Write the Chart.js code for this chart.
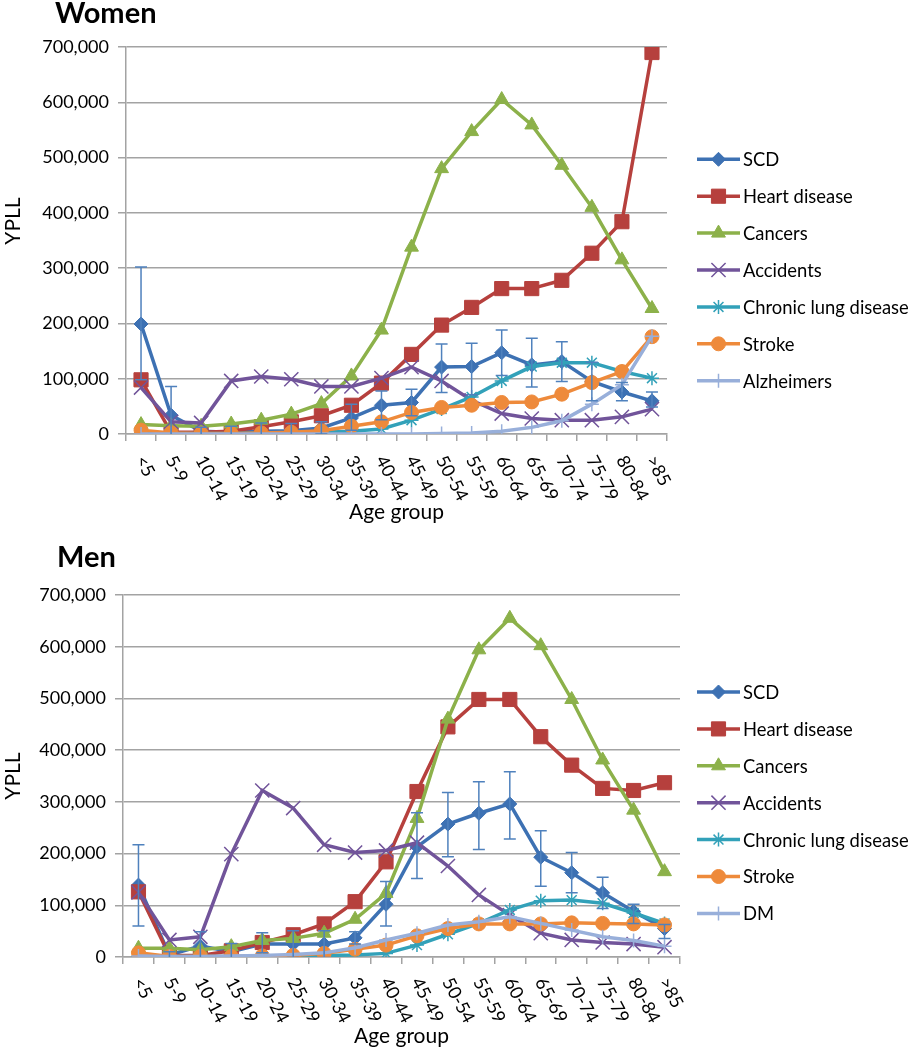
<!DOCTYPE html>
<html><head><meta charset="utf-8">
<script src="https://cdn.jsdelivr.net/npm/chart.js@4.4.0/dist/chart.umd.min.js"></script>
<style>
html,body{margin:0;padding:0;background:#fff;}
#wrap{position:relative;width:911px;height:1050px;}
canvas{display:block;}
</style></head><body>
<div id="wrap">
<canvas id="women" width="911" height="525"></canvas>
<canvas id="men" width="911" height="525"></canvas>
</div>
<script>
// ---------- DATA ----------
const ageGroups = ['<5','5-9','10-14','15-19','20-24','25-29','30-34','35-39','40-44','45-49','50-54','55-59','60-64','65-69','70-74','75-79','80-84','>85'];
const yTicks = [0,100000,200000,300000,400000,500000,600000,700000];

// Women
const womenSCD        = [199000,34000,5000,3000,5000,6000,11000,29000,52000,57000,121000,122000,147000,125000,131000,95000,76000,60000];
const womenSCDHigh    = [302000,86000,12000,14000,20000,19000,22000,54000,78000,81000,163000,164000,188000,173000,167000,130000,93000,76000];
const womenSCDLow     = [98000,-18000,-2000,-8000,-10000,-7000,0,7000,26000,33000,75000,71000,106000,85000,95000,60000,60000,49000];
const womenHeart      = [98000,3000,3000,5000,13000,22000,33000,52000,92000,144000,197000,229000,263000,263000,278000,327000,384000,690000];
const womenCancers    = [17000,15000,14000,18000,25000,36000,55000,105000,188000,338000,480000,547000,605000,559000,486000,410000,315000,227000];
const womenAccidents  = [84000,22000,20000,96000,104000,99000,86000,86000,101000,121000,96000,61000,37000,28000,25000,25000,31000,45000];
const womenChronic    = [2000,1000,1000,1000,2000,2000,3000,5000,9000,25000,45000,67000,96000,122000,129000,129000,113000,101000];
const womenStroke     = [7000,2000,1000,1000,2000,3000,6000,14000,22000,39000,48000,52000,57000,58000,72000,93000,113000,176000];
const womenAlzheimers = [0,0,0,0,0,0,0,0,0,0,1000,2000,5000,12000,24000,54000,89000,177000];

// Men
const menSCD       = [139000,4000,21000,10000,25000,25000,25000,37000,102000,213000,257000,278000,296000,193000,163000,124000,88000,55000];
const menSCDHigh   = [217000,10000,49000,26000,47000,51000,51000,49000,146000,279000,318000,339000,358000,244000,202000,154000,102000,63000];
const menSCDLow    = [60000,-2000,-7000,-6000,8000,-1000,-1000,25000,60000,152000,194000,208000,228000,137000,124000,94000,65000,36000];
const menHeart     = [126000,3000,3000,12000,28000,43000,64000,107000,184000,320000,445000,498000,498000,426000,371000,326000,322000,337000];
const menCancers   = [17000,17000,14000,20000,32000,36000,46000,73000,123000,268000,460000,594000,655000,602000,498000,381000,284000,165000];
const menAccidents = [125000,33000,39000,199000,322000,288000,217000,202000,206000,221000,176000,120000,81000,46000,33000,28000,25000,19000];
const menChronic   = [1000,1000,1000,1000,1000,2000,3000,4000,7000,23000,44000,65000,91000,109000,110000,104000,85000,65000];
const menStroke    = [8000,1000,1000,1000,2000,3000,7000,15000,23000,41000,55000,64000,64000,64000,66000,65000,64000,62000];
const menDM        = [2000,1000,1000,2000,3000,5000,8000,18000,33000,46000,62000,68000,78000,65000,52000,39000,32000,21000];

// ---------- STYLE ----------
const C = {
  scd:'#3D71B3', heart:'#B6403D', cancers:'#8CB14A', accidents:'#71549A',
  chronic:'#32A1B9', stroke:'#EE8A3B', light:'#98AFDA', err:'#4F81BD', grid:'#A3A3A3'
};
const FONT = 'Lato';

function series(label, data, color, style, radius, pbw, idx) {
  return {
    label, data,
    borderColor: color, backgroundColor: color,
    pointBackgroundColor: color, pointBorderColor: color,
    pointStyle: style, pointRadius: radius, pointHoverRadius: radius,
    pointBorderWidth: pbw, borderWidth: 3.5, tension: 0,
    order: 20 - idx
  };
}

function errorBarPlugin(hi, lo) {
  return {
    id: 'errorBars',
    afterDatasetsDraw(chart) {
      const {ctx, chartArea, scales:{x, y}} = chart;
      ctx.save();
      ctx.beginPath();
      ctx.rect(chartArea.left, chartArea.top - 2, chartArea.width, chartArea.height + 2);
      ctx.clip();
      ctx.strokeStyle = C.err; ctx.lineWidth = 1.5;
      hi.forEach((h, i) => {
        const px = x.getPixelForValue(i);
        const yh = y.getPixelForValue(h), yl = y.getPixelForValue(lo[i]);
        ctx.beginPath();
        ctx.moveTo(px, yh); ctx.lineTo(px, yl);
        ctx.moveTo(px - 6, yh); ctx.lineTo(px + 6, yh);
        ctx.moveTo(px - 6, yl); ctx.lineTo(px + 6, yl);
        ctx.stroke();
      });
      ctx.restore();
    }
  };
}

function rotLabelPlugin(offset) {
  return {
    id: 'rotLabels',
    afterDraw(chart) {
      const {ctx} = chart, xs = chart.scales.x;
      ctx.save();
      ctx.font = '18px ' + FONT; ctx.fillStyle = '#000';
      ctx.textAlign = 'left'; ctx.textBaseline = 'middle';
      const ang = 62 * Math.PI / 180;
      chart.data.labels.forEach((lab, i) => {
        const x = xs.getPixelForValue(i);
        ctx.save(); ctx.translate(x - 1, xs.top + offset); ctx.rotate(ang);
        ctx.fillText(lab, 0, 0); ctx.restore();
      });
      ctx.restore();
    }
  };
}

function legendPlugin(x, centerY) {
  return {
    id: 'sideLegend',
    afterDraw(chart) {
      const {ctx} = chart, ds = chart.data.datasets, sp = 36.9, len = 43;
      const y0 = centerY - (ds.length - 1) / 2 * sp;
      ds.forEach((d, i) => {
        const y = y0 + i * sp;
        ctx.save();
        ctx.strokeStyle = d.borderColor; ctx.lineWidth = 3.5;
        ctx.beginPath(); ctx.moveTo(x, y); ctx.lineTo(x + len, y); ctx.stroke();
        ctx.fillStyle = d.pointBackgroundColor; ctx.strokeStyle = d.pointBorderColor;
        ctx.lineWidth = d.pointBorderWidth;
        Chart.helpers.drawPoint(ctx, {pointStyle: d.pointStyle, radius: d.pointRadius, rotation: 0, borderWidth: d.pointBorderWidth}, x + len / 2, y);
        ctx.fillStyle = '#000'; ctx.font = '18.4px ' + FONT;
        ctx.textAlign = 'left'; ctx.textBaseline = 'middle';
        ctx.fillText(d.label, x + len + 3, y + 1);
        ctx.restore();
      });
    }
  };
}

function titlePlugin(text, x, baseline, yTitleCenter) {
  return {
    id: 'panelTitle',
    afterDraw(chart) {
      const {ctx} = chart;
      ctx.save();
      ctx.font = 'bold 29px ' + FONT; ctx.fillStyle = '#000';
      ctx.textAlign = 'left'; ctx.textBaseline = 'alphabetic';
      ctx.fillText(text, x, baseline);
      // y-axis title
      ctx.font = '21px ' + FONT;
      ctx.textAlign = 'center'; ctx.textBaseline = 'middle';
      ctx.translate(13, yTitleCenter); ctx.rotate(-Math.PI / 2);
      ctx.fillText('YPLL', 0, 0);
      ctx.restore();
    }
  };
}

function makeChart(id, datasets, cfg) {
  return new Chart(document.getElementById(id), {
    type: 'line',
    data: { labels: ageGroups, datasets },
    options: {
      responsive: false, animation: false, events: [],
      layout: { padding: { left: 0, right: cfg.padRight, top: cfg.padTop, bottom: 0 } },
      plugins: { legend: { display: false }, tooltip: { enabled: false }, title: { display: false } },
      scales: {
        x: {
          type: 'category', offset: true,
          grid: { display: true, drawOnChartArea: false, drawTicks: true, tickLength: 7, color: C.grid, lineWidth: 1.5, offset: true },
          border: { display: true, color: C.grid, width: 1.5 },
          ticks: { display: false },
          title: { display: true, text: 'Age group', color: '#000', font: { family: FONT, size: 21, lineHeight: 1 }, padding: { top: 0, bottom: cfg.xTitlePad } },
          afterFit(s) { s.height = cfg.xHeight; }
        },
        y: {
          min: 0, max: 700000,
          afterBuildTicks(s) { s.ticks = yTicks.map(v => ({ value: v })); },
          ticks: { color: '#000', font: { family: FONT, size: 18 }, padding: 9, callback: v => v.toLocaleString('en-US') },
          grid: { color: C.grid, lineWidth: 1.5, drawTicks: true, tickLength: 8 },
          border: { display: true, color: C.grid, width: 1.5 },
          title: { display: false },
          afterFit(s) { s.width = cfg.yWidth; }
        }
      }
    },
    plugins: [errorBarPlugin(cfg.hi, cfg.lo), rotLabelPlugin(cfg.labelOffset), legendPlugin(697, cfg.legendCenter), titlePlugin(cfg.title, cfg.titleX, cfg.titleBase, cfg.yTitleCenter)]
  });
}

const womenSets = [
  series('SCD', womenSCD, C.scd, 'rectRot', 7, 1, 0),
  series('Heart disease', womenHeart, C.heart, 'rect', 10, 1, 1),
  series('Cancers', womenCancers, C.cancers, 'triangle', 8, 1, 2),
  series('Accidents', womenAccidents, C.accidents, 'crossRot', 10, 1.5, 3),
  series('Chronic lung disease', womenChronic, C.chronic, 'star', 7, 1.5, 4),
  series('Stroke', womenStroke, C.stroke, 'circle', 7, 1, 5),
  series('Alzheimers', womenAlzheimers, C.light, 'cross', 7, 1.5, 6)
];
const menSets = [
  series('SCD', menSCD, C.scd, 'rectRot', 7, 1, 0),
  series('Heart disease', menHeart, C.heart, 'rect', 10, 1, 1),
  series('Cancers', menCancers, C.cancers, 'triangle', 8, 1, 2),
  series('Accidents', menAccidents, C.accidents, 'crossRot', 10, 1.5, 3),
  series('Chronic lung disease', menChronic, C.chronic, 'star', 7, 1.5, 4),
  series('Stroke', menStroke, C.stroke, 'circle', 7, 1, 5),
  series('DM', menDM, C.light, 'cross', 7, 1.5, 6)
];

makeChart('women', womenSets, {
  padRight: 244, padTop: 47, xHeight: 91, yWidth: 126, xTitlePad: 2,
  hi: womenSCDHigh, lo: womenSCDLow, labelOffset: 23, legendCenter: 270,
  title: 'Women', titleX: 55, titleBase: 23.2, yTitleCenter: 221
});
makeChart('men', menSets, {
  padRight: 231, padTop: 70, xHeight: 93, yWidth: 123, xTitlePad: 3,
  hi: menSCDHigh, lo: menSCDLow, labelOffset: 22, legendCenter: 277.7,
  title: 'Men', titleX: 57, titleBase: 42.4, yTitleCenter: 251
});
</script>
</body></html>
